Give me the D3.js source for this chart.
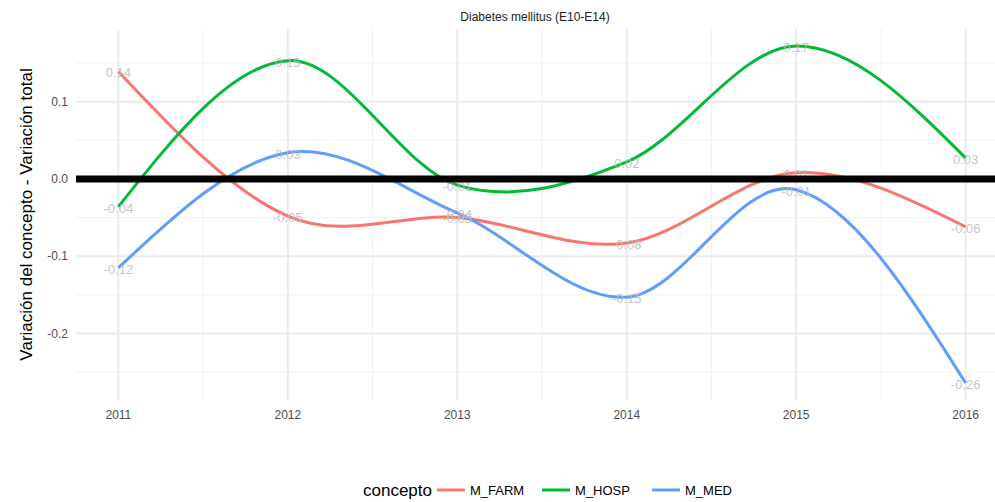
<!DOCTYPE html>
<html>
<head>
<meta charset="utf-8">
<script src="https://cdn.jsdelivr.net/npm/d3@7"></script>
<style>
  body { margin: 0; background: #fff; }
  text { font-family: "Liberation Sans", Arial, sans-serif; }
</style>
</head>
<body>
<svg width="995" height="502"></svg>
<script>
const years = [2011, 2012, 2013, 2014, 2015, 2016];
const farm = [0.139, -0.048, -0.050, -0.083, 0.008, -0.062];
const hosp = [-0.036, 0.153, -0.008, 0.022, 0.172, 0.027];
const med = [-0.115, 0.034, -0.044, -0.153, -0.014, -0.264];
const seriesNames = ['M_FARM', 'M_HOSP', 'M_MED'];
const seriesColors = ['#F8766D', '#00BA38', '#619CFF'];
const yTicks = [0.1, 0, -0.1, -0.2];
const yMinor = [0.15, 0.05, -0.05, -0.15, -0.25];

const svg = d3.select('svg');
const panelLeft = 76, panelRight = 1008, panelTop = 29, panelBottom = 400;

const x = d3.scaleLinear().domain([2010.75, 2016.25]).range([panelLeft, panelRight]);
const y = d3.scaleLinear().domain([-0.286, 0.194]).range([panelBottom, panelTop]);

// catmull-rom inside, natural-like ends (close to the xspline of the original)
function SmoothCurve(context) { this._context = context; }
SmoothCurve.prototype = {
    areaStart() {}, areaEnd() {},
    lineStart() { this._x = []; this._y = []; },
    point(px, py) { this._x.push(+px); this._y.push(+py); },
    lineEnd() {
        const xs = this._x, ys = this._y, n = xs.length, c = this._context;
        const mx = [], my = [];
        for (let i = 1; i < n - 1; i++) {
            mx[i] = (xs[i + 1] - xs[i - 1]) / 2;
            my[i] = (ys[i + 1] - ys[i - 1]) / 2;
        }
        mx[0] = (3 * (xs[1] - xs[0]) - mx[1]) / 2;
        my[0] = (3 * (ys[1] - ys[0]) - my[1]) / 2;
        mx[n - 1] = (3 * (xs[n - 1] - xs[n - 2]) - mx[n - 2]) / 2;
        my[n - 1] = (3 * (ys[n - 1] - ys[n - 2]) - my[n - 2]) / 2;
        c.moveTo(xs[0], ys[0]);
        for (let i = 0; i < n - 1; i++) {
            c.bezierCurveTo(xs[i] + mx[i] / 3, ys[i] + my[i] / 3,
                            xs[i + 1] - mx[i + 1] / 3, ys[i + 1] - my[i + 1] / 3,
                            xs[i + 1], ys[i + 1]);
        }
    }
};
const curveSmooth = context => new SmoothCurve(context);

const series = [farm, hosp, med].map((vals, i) => ({
    name: seriesNames[i],
    color: seriesColors[i],
    points: vals.map((v, j) => ({x: years[j], y: v}))
}));

// grid
const grid = svg.append('g');
grid.selectAll('.ymin').data(yMinor).join('line')
    .attr('x1', panelLeft).attr('x2', 995)
    .attr('y1', d => y(d)).attr('y2', d => y(d))
    .attr('stroke', '#f2f2f2').attr('stroke-width', 1);
grid.selectAll('.xmin').data(years.slice(1).map(d => d - 0.5)).join('line')
    .attr('x1', d => x(d)).attr('x2', d => x(d))
    .attr('y1', panelTop).attr('y2', panelBottom)
    .attr('stroke', '#f2f2f2').attr('stroke-width', 1);
grid.selectAll('.ymaj').data(yTicks).join('line')
    .attr('x1', panelLeft).attr('x2', 995)
    .attr('y1', d => y(d)).attr('y2', d => y(d))
    .attr('stroke', '#ebebeb').attr('stroke-width', 2);
grid.selectAll('.xmaj').data(years).join('line')
    .attr('x1', d => x(d)).attr('x2', d => x(d))
    .attr('y1', panelTop).attr('y2', panelBottom)
    .attr('stroke', '#ebebeb').attr('stroke-width', 2);

// axis labels
svg.append('g').selectAll('text').data(yTicks).join('text')
    .attr('x', 68).attr('y', d => y(d)).attr('dy', '0.35em')
    .attr('text-anchor', 'end').attr('font-size', 12).attr('fill', '#4d4d4d')
    .text(d => d3.format('.1f')(d).replace('−', '-'));
svg.append('g').selectAll('text').data(years).join('text')
    .attr('x', d => x(d)).attr('y', 419)
    .attr('text-anchor', 'middle').attr('font-size', 12).attr('fill', '#4d4d4d')
    .text(d => d);

// lines
const line = d3.line().x(d => x(d.x)).y(d => y(d.y)).curve(curveSmooth);
svg.append('g').selectAll('path').data(series).join('path')
    .attr('d', d => line(d.points))
    .attr('fill', 'none')
    .attr('stroke', d => d.color)
    .attr('stroke-width', 3);

// value labels
series.forEach(s => {
    svg.append('g').selectAll('text').data(s.points).join('text')
        .attr('x', d => x(d.x)).attr('y', d => y(d.y)).attr('dy', '0.45em')
        .attr('text-anchor', 'middle').attr('font-size', 13)
        .attr('fill', '#bdbdbd').attr('fill-opacity', 0.9)
        .text(d => d3.format('.2f')(d.y).replace('−', '-'));
});

// zero line (drawn on top)
svg.append('line')
    .attr('x1', panelLeft).attr('x2', 995)
    .attr('y1', y(0)).attr('y2', y(0))
    .attr('stroke', '#000').attr('stroke-width', 7);

// title
svg.append('text')
    .attr('x', 535).attr('y', 21)
    .attr('text-anchor', 'middle').attr('font-size', 12).attr('fill', '#222')
    .text('Diabetes mellitus (E10-E14)');

// y title
svg.append('text')
    .attr('transform', `translate(32, ${(panelTop + panelBottom) / 2}) rotate(-90)`)
    .attr('text-anchor', 'middle').attr('font-size', 17).attr('fill', '#000')
    .text('Variación del concepto - Variación total');

// legend
const legend = svg.append('g').attr('transform', 'translate(0, 490)');
legend.append('text')
    .attr('x', 363).attr('y', 0).attr('dy', '0.35em')
    .attr('font-size', 17).attr('fill', '#000')
    .text('concepto');
const keyX = [437, 542, 652];
series.forEach((s, i) => {
    legend.append('line')
        .attr('x1', keyX[i]).attr('x2', keyX[i] + 28)
        .attr('y1', 0).attr('y2', 0)
        .attr('stroke', s.color).attr('stroke-width', 3);
    legend.append('text')
        .attr('x', keyX[i] + 33).attr('y', 0).attr('dy', '0.35em')
        .attr('font-size', 13).attr('fill', '#000')
        .text(s.name);
});
</script>
</body>
</html>
